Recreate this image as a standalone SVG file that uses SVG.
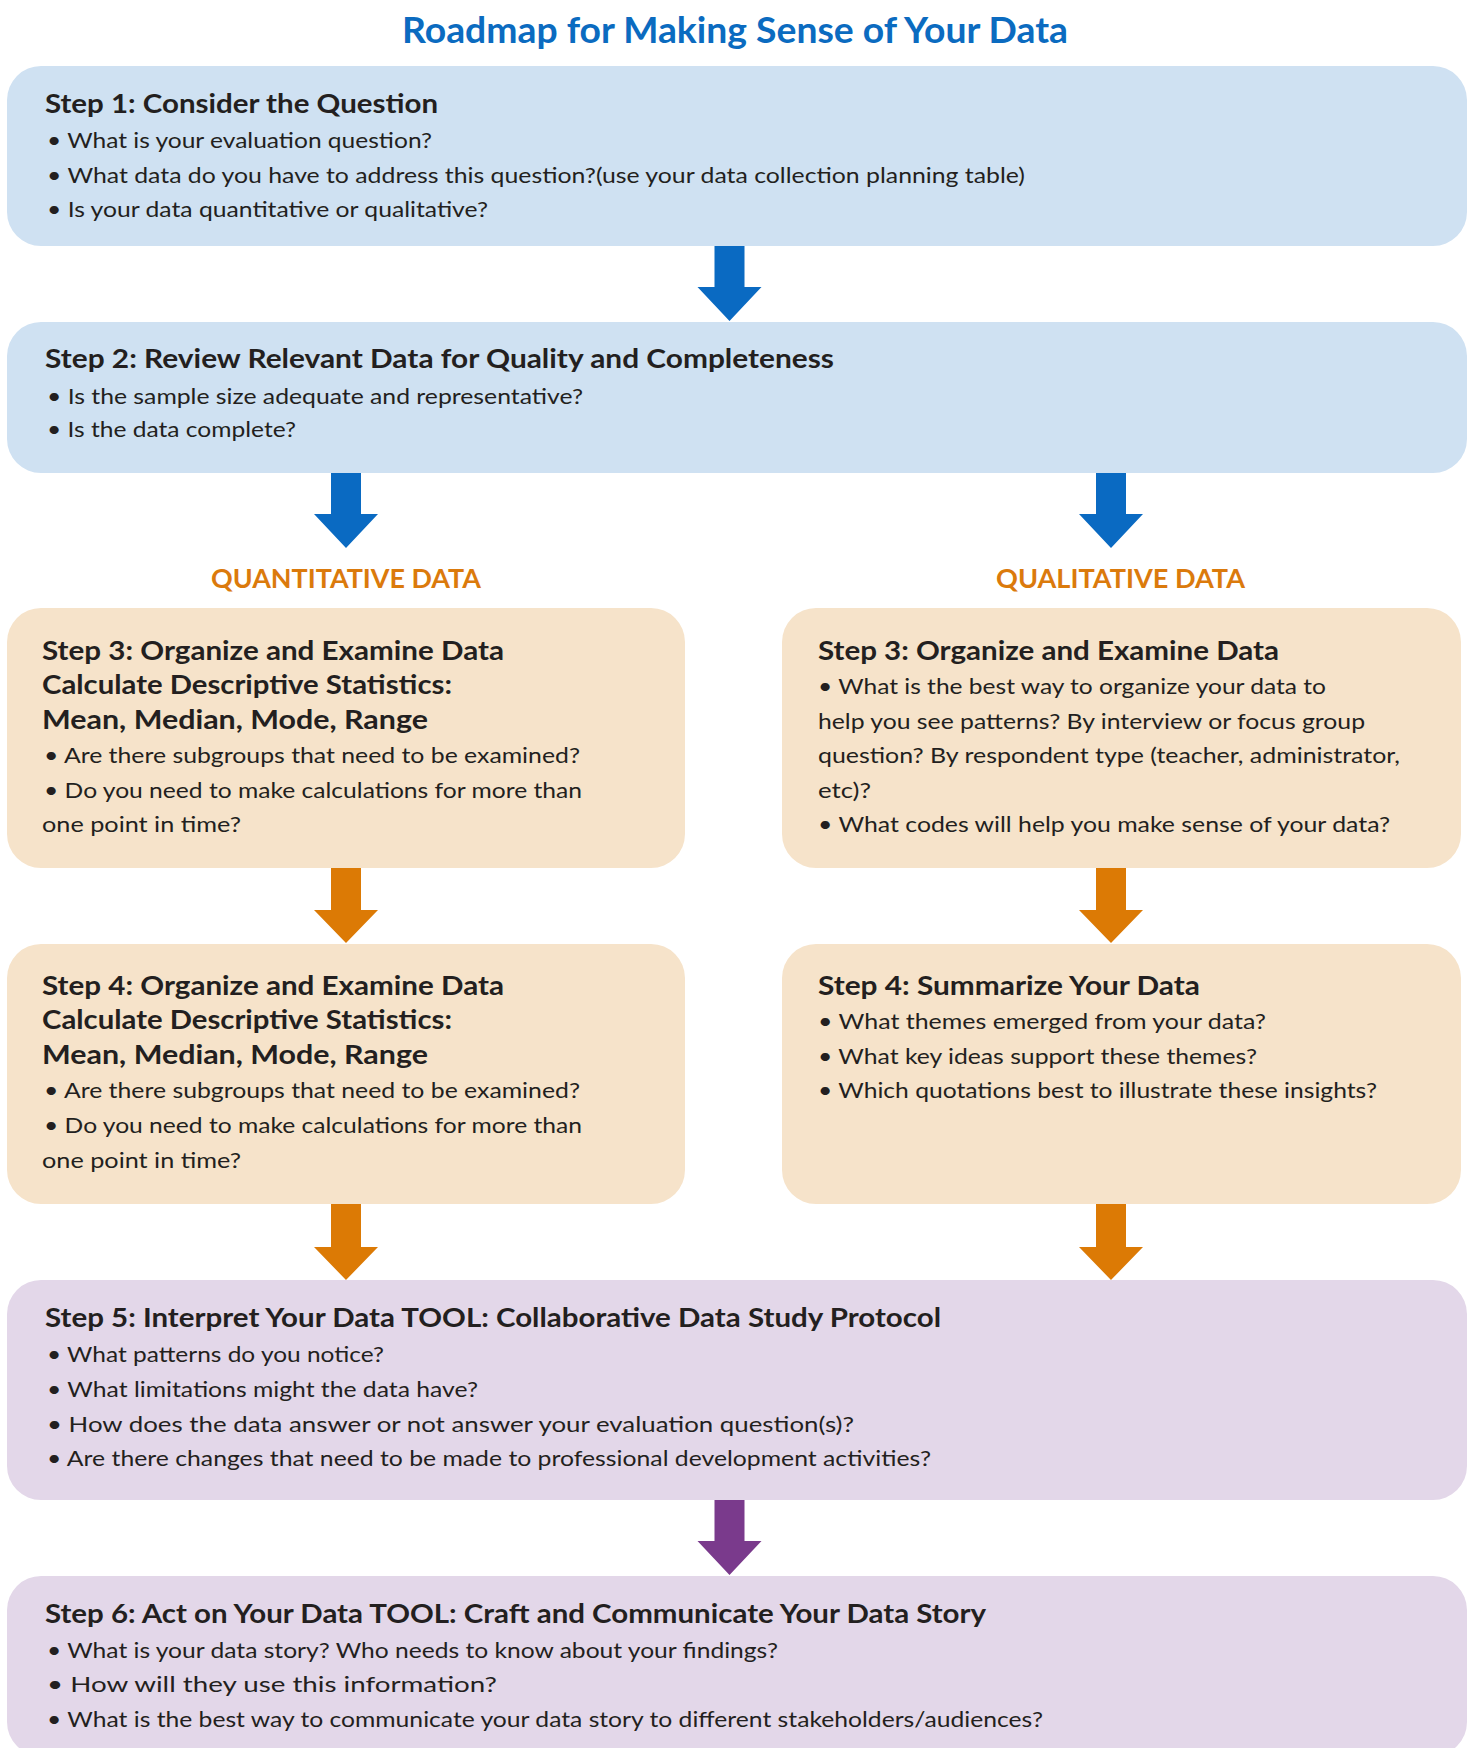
<svg xmlns="http://www.w3.org/2000/svg" width="1471" height="1748" viewBox="0 0 1471 1748">
<style>
text{font-family:Lato,"Open Sans","Liberation Sans",sans-serif;fill:#231F20}
.t{font-size:36px;font-weight:700;fill:#0B6BC0}
.h{font-size:26px;font-weight:700}
.b{font-size:22px}
.lab{font-size:26px;font-weight:700;fill:#DB7A0C}
.blue{fill:#CFE1F2}
.org{fill:#F6E3CA}
.pur{fill:#E3D7E9}
.ab{fill:#0A6AC2}
.ao{fill:#DC7A05}
.ap{fill:#7A3A8C}
</style>
<text class="t" x="402" y="43" textLength="666" lengthAdjust="spacingAndGlyphs">Roadmap for Making Sense of Your Data</text>
<g id="connectors">
<polygon class="ab" points="714.5,246 744.5,246 744.5,287 761.5,287 729.5,321 697.5,287 714.5,287"/>
<polygon class="ab" points="331,473 361,473 361,514 378,514 346,548 314,514 331,514"/>
<polygon class="ab" points="1096,473 1126,473 1126,514 1143,514 1111,548 1079,514 1096,514"/>
<polygon class="ao" points="331,868 361,868 361,910 378,910 346,943 314,910 331,910"/>
<polygon class="ao" points="1096,868 1126,868 1126,910 1143,910 1111,943 1079,910 1096,910"/>
<polygon class="ao" points="331,1204 361,1204 361,1247 378,1247 346,1280 314,1247 331,1247"/>
<polygon class="ao" points="1096,1204 1126,1204 1126,1247 1143,1247 1111,1280 1079,1247 1096,1247"/>
<polygon class="ap" points="714.5,1500 744.5,1500 744.5,1541 761.5,1541 729.5,1575 697.5,1541 714.5,1541"/>
</g>
<g id="step1">
<rect class="blue" x="7" y="66" width="1460" height="180" rx="34"/>
<text class="h" x="45" y="113" textLength="393" lengthAdjust="spacingAndGlyphs">Step 1: Consider the Question</text>
<text class="b" x="47" y="148" textLength="385" lengthAdjust="spacingAndGlyphs">• What is your evaluation question?</text>
<text class="b" x="47" y="183" textLength="978" lengthAdjust="spacingAndGlyphs">• What data do you have to address this question?(use your data collection planning table)</text>
<text class="b" x="47" y="217" textLength="441" lengthAdjust="spacingAndGlyphs">• Is your data quantitative or qualitative?</text>
</g>
<g id="step2">
<rect class="blue" x="7" y="322" width="1460" height="151" rx="34"/>
<text class="h" x="45" y="368" textLength="789" lengthAdjust="spacingAndGlyphs">Step 2: Review Relevant Data for Quality and Completeness</text>
<text class="b" x="47" y="404" textLength="536" lengthAdjust="spacingAndGlyphs">• Is the sample size adequate and representative?</text>
<text class="b" x="47" y="437" textLength="249" lengthAdjust="spacingAndGlyphs">• Is the data complete?</text>
</g>
<g id="label-quant">
<text class="lab" x="211" y="588" textLength="270" lengthAdjust="spacingAndGlyphs">QUANTITATIVE DATA</text>
</g>
<g id="label-qual">
<text class="lab" x="996" y="588" textLength="249" lengthAdjust="spacingAndGlyphs">QUALITATIVE DATA</text>
</g>
<g id="step3-quant">
<rect class="org" x="7" y="608" width="678" height="260" rx="34"/>
<text class="h" x="42" y="660" textLength="462" lengthAdjust="spacingAndGlyphs">Step 3: Organize and Examine Data</text>
<text class="h" x="42" y="694" textLength="410" lengthAdjust="spacingAndGlyphs">Calculate Descriptive Statistics:</text>
<text class="h" x="42" y="729" textLength="386" lengthAdjust="spacingAndGlyphs">Mean, Median, Mode, Range</text>
<text class="b" x="44" y="763" textLength="536" lengthAdjust="spacingAndGlyphs">• Are there subgroups that need to be examined?</text>
<text class="b" x="44" y="798" textLength="538" lengthAdjust="spacingAndGlyphs">• Do you need to make calculations for more than</text>
<text class="b" x="42" y="832" textLength="199" lengthAdjust="spacingAndGlyphs">one point in time?</text>
</g>
<g id="step3-qual">
<rect class="org" x="782" y="608" width="679" height="260" rx="34"/>
<text class="h" x="818" y="660" textLength="461" lengthAdjust="spacingAndGlyphs">Step 3: Organize and Examine Data</text>
<text class="b" x="818" y="694" textLength="508" lengthAdjust="spacingAndGlyphs">• What is the best way to organize your data to</text>
<text class="b" x="818" y="729" textLength="547" lengthAdjust="spacingAndGlyphs">help you see patterns? By interview or focus group</text>
<text class="b" x="818" y="763" textLength="582" lengthAdjust="spacingAndGlyphs">question? By respondent type (teacher, administrator,</text>
<text class="b" x="818" y="798" textLength="53" lengthAdjust="spacingAndGlyphs">etc)?</text>
<text class="b" x="818" y="832" textLength="572" lengthAdjust="spacingAndGlyphs">• What codes will help you make sense of your data?</text>
</g>
<g id="step4-quant">
<rect class="org" x="7" y="944" width="678" height="260" rx="34"/>
<text class="h" x="42" y="995" textLength="462" lengthAdjust="spacingAndGlyphs">Step 4: Organize and Examine Data</text>
<text class="h" x="42" y="1029" textLength="410" lengthAdjust="spacingAndGlyphs">Calculate Descriptive Statistics:</text>
<text class="h" x="42" y="1064" textLength="386" lengthAdjust="spacingAndGlyphs">Mean, Median, Mode, Range</text>
<text class="b" x="44" y="1098" textLength="536" lengthAdjust="spacingAndGlyphs">• Are there subgroups that need to be examined?</text>
<text class="b" x="44" y="1133" textLength="538" lengthAdjust="spacingAndGlyphs">• Do you need to make calculations for more than</text>
<text class="b" x="42" y="1168" textLength="199" lengthAdjust="spacingAndGlyphs">one point in time?</text>
</g>
<g id="step4-qual">
<rect class="org" x="782" y="944" width="679" height="260" rx="34"/>
<text class="h" x="818" y="995" textLength="382" lengthAdjust="spacingAndGlyphs">Step 4: Summarize Your Data</text>
<text class="b" x="818" y="1029" textLength="448" lengthAdjust="spacingAndGlyphs">• What themes emerged from your data?</text>
<text class="b" x="818" y="1064" textLength="439" lengthAdjust="spacingAndGlyphs">• What key ideas support these themes?</text>
<text class="b" x="818" y="1098" textLength="559" lengthAdjust="spacingAndGlyphs">• Which quotations best to illustrate these insights?</text>
</g>
<g id="step5">
<rect class="pur" x="7" y="1280" width="1460" height="220" rx="34"/>
<text class="h" x="45" y="1327" textLength="896" lengthAdjust="spacingAndGlyphs">Step 5: Interpret Your Data TOOL: Collaborative Data Study Protocol</text>
<text class="b" x="47" y="1362" textLength="337" lengthAdjust="spacingAndGlyphs">• What patterns do you notice?</text>
<text class="b" x="47" y="1397" textLength="431" lengthAdjust="spacingAndGlyphs">• What limitations might the data have?</text>
<text class="b" x="47" y="1432" textLength="807" lengthAdjust="spacingAndGlyphs">• How does the data answer or not answer your evaluation question(s)?</text>
<text class="b" x="47" y="1466" textLength="884" lengthAdjust="spacingAndGlyphs">• Are there changes that need to be made to professional development activities?</text>
</g>
<g id="step6">
<rect class="pur" x="7" y="1576" width="1460" height="180" rx="34"/>
<text class="h" x="45" y="1623" textLength="941" lengthAdjust="spacingAndGlyphs">Step 6: Act on Your Data TOOL: Craft and Communicate Your Data Story</text>
<text class="b" x="47" y="1658" textLength="731" lengthAdjust="spacingAndGlyphs">• What is your data story? Who needs to know about your findings?</text>
<text class="b" x="47" y="1692" textLength="450" lengthAdjust="spacingAndGlyphs">• How will they use this information?</text>
<text class="b" x="47" y="1727" textLength="996" lengthAdjust="spacingAndGlyphs">• What is the best way to communicate your data story to different stakeholders/audiences?</text>
</g>
</svg>
